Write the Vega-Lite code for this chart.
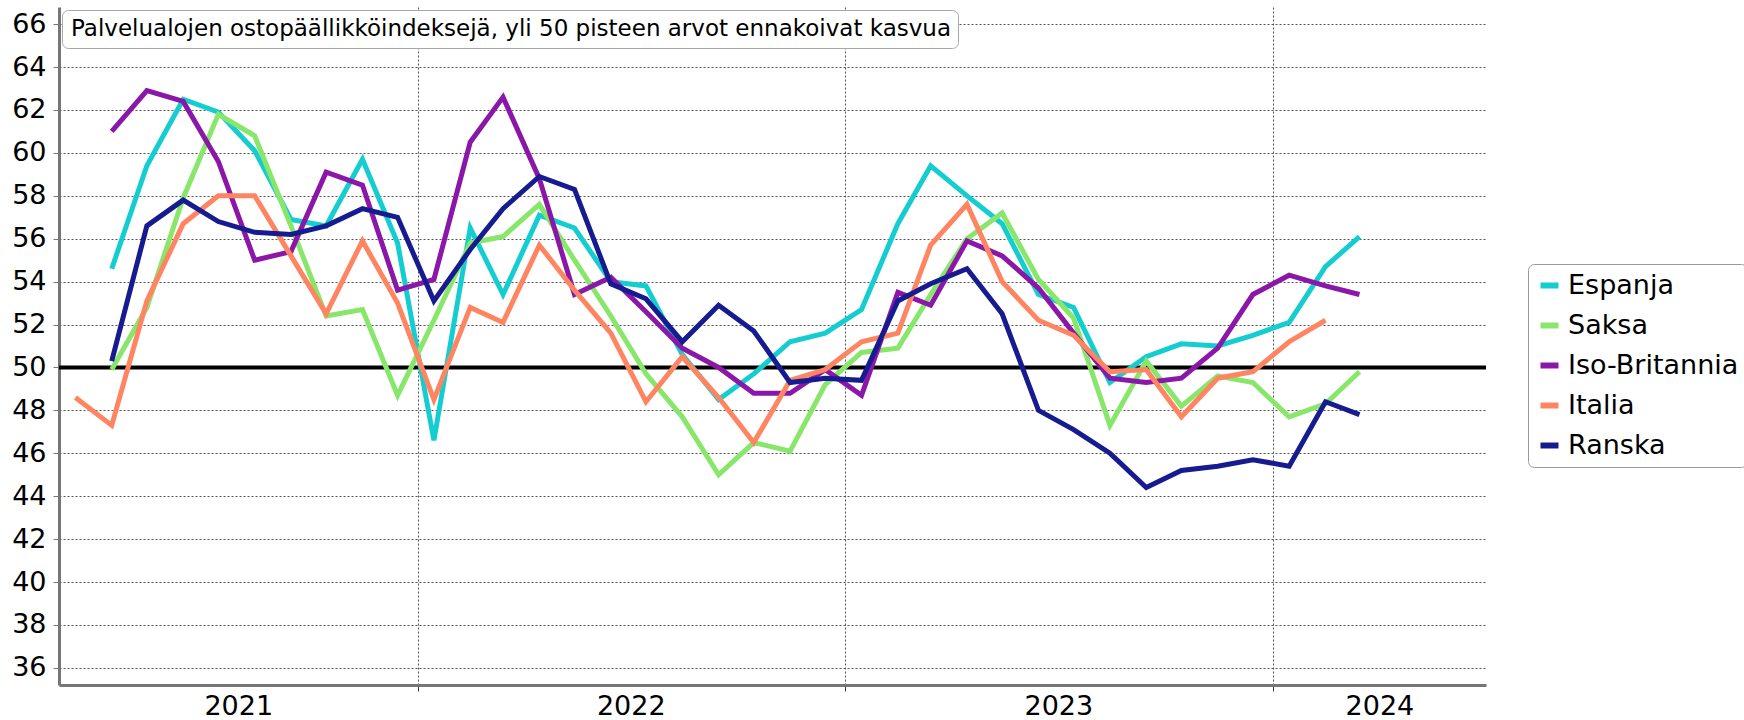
{
  "$schema": "https://vega.github.io/schema/vega-lite/v6.json",
  "width": 1427,
  "height": 678,
  "autosize": {"type": "none"},
  "padding": {"left": 59, "top": 7, "right": 258, "bottom": 35},
  "config": {
    "font": "DejaVu Sans",
    "view": {"stroke": null},
    "axis": {"labelColor": "black"}
  },
  "datasets": {
    "pmi": [
      {"kk":"2021-04-15","maa":"Espanja","arvo":54.6},{"kk":"2021-05-15","maa":"Espanja","arvo":59.4},{"kk":"2021-06-15","maa":"Espanja","arvo":62.5},{"kk":"2021-07-15","maa":"Espanja","arvo":61.9},{"kk":"2021-08-15","maa":"Espanja","arvo":60.1},{"kk":"2021-09-15","maa":"Espanja","arvo":56.9},{"kk":"2021-10-15","maa":"Espanja","arvo":56.6},{"kk":"2021-11-15","maa":"Espanja","arvo":59.7},{"kk":"2021-12-15","maa":"Espanja","arvo":55.8},
      {"kk":"2022-01-15","maa":"Espanja","arvo":46.6},{"kk":"2022-02-15","maa":"Espanja","arvo":56.5},{"kk":"2022-03-15","maa":"Espanja","arvo":53.4},{"kk":"2022-04-15","maa":"Espanja","arvo":57.1},{"kk":"2022-05-15","maa":"Espanja","arvo":56.5},{"kk":"2022-06-15","maa":"Espanja","arvo":54.0},{"kk":"2022-07-15","maa":"Espanja","arvo":53.8},{"kk":"2022-08-15","maa":"Espanja","arvo":50.6},{"kk":"2022-09-15","maa":"Espanja","arvo":48.5},{"kk":"2022-10-15","maa":"Espanja","arvo":49.7},{"kk":"2022-11-15","maa":"Espanja","arvo":51.2},{"kk":"2022-12-15","maa":"Espanja","arvo":51.6},
      {"kk":"2023-01-15","maa":"Espanja","arvo":52.7},{"kk":"2023-02-15","maa":"Espanja","arvo":56.7},{"kk":"2023-03-15","maa":"Espanja","arvo":59.4},{"kk":"2023-04-15","maa":"Espanja","arvo":58.0},{"kk":"2023-05-15","maa":"Espanja","arvo":56.7},{"kk":"2023-06-15","maa":"Espanja","arvo":53.4},{"kk":"2023-07-15","maa":"Espanja","arvo":52.8},{"kk":"2023-08-15","maa":"Espanja","arvo":49.3},{"kk":"2023-09-15","maa":"Espanja","arvo":50.5},{"kk":"2023-10-15","maa":"Espanja","arvo":51.1},{"kk":"2023-11-15","maa":"Espanja","arvo":51.0},{"kk":"2023-12-15","maa":"Espanja","arvo":51.5},
      {"kk":"2024-01-15","maa":"Espanja","arvo":52.1},{"kk":"2024-02-15","maa":"Espanja","arvo":54.7},{"kk":"2024-03-15","maa":"Espanja","arvo":56.1},

      {"kk":"2021-04-15","maa":"Saksa","arvo":49.9},{"kk":"2021-05-15","maa":"Saksa","arvo":52.8},{"kk":"2021-06-15","maa":"Saksa","arvo":57.9},{"kk":"2021-07-15","maa":"Saksa","arvo":61.8},{"kk":"2021-08-15","maa":"Saksa","arvo":60.8},{"kk":"2021-09-15","maa":"Saksa","arvo":56.6},{"kk":"2021-10-15","maa":"Saksa","arvo":52.4},{"kk":"2021-11-15","maa":"Saksa","arvo":52.7},{"kk":"2021-12-15","maa":"Saksa","arvo":48.7},
      {"kk":"2022-01-15","maa":"Saksa","arvo":52.2},{"kk":"2022-02-15","maa":"Saksa","arvo":55.8},{"kk":"2022-03-15","maa":"Saksa","arvo":56.1},{"kk":"2022-04-15","maa":"Saksa","arvo":57.6},{"kk":"2022-05-15","maa":"Saksa","arvo":55.0},{"kk":"2022-06-15","maa":"Saksa","arvo":52.4},{"kk":"2022-07-15","maa":"Saksa","arvo":49.7},{"kk":"2022-08-15","maa":"Saksa","arvo":47.7},{"kk":"2022-09-15","maa":"Saksa","arvo":45.0},{"kk":"2022-10-15","maa":"Saksa","arvo":46.5},{"kk":"2022-11-15","maa":"Saksa","arvo":46.1},{"kk":"2022-12-15","maa":"Saksa","arvo":49.2},
      {"kk":"2023-01-15","maa":"Saksa","arvo":50.7},{"kk":"2023-02-15","maa":"Saksa","arvo":50.9},{"kk":"2023-03-15","maa":"Saksa","arvo":53.4},{"kk":"2023-04-15","maa":"Saksa","arvo":56.0},{"kk":"2023-05-15","maa":"Saksa","arvo":57.2},{"kk":"2023-06-15","maa":"Saksa","arvo":54.1},{"kk":"2023-07-15","maa":"Saksa","arvo":52.3},{"kk":"2023-08-15","maa":"Saksa","arvo":47.3},{"kk":"2023-09-15","maa":"Saksa","arvo":50.3},{"kk":"2023-10-15","maa":"Saksa","arvo":48.2},{"kk":"2023-11-15","maa":"Saksa","arvo":49.6},{"kk":"2023-12-15","maa":"Saksa","arvo":49.3},
      {"kk":"2024-01-15","maa":"Saksa","arvo":47.7},{"kk":"2024-02-15","maa":"Saksa","arvo":48.3},{"kk":"2024-03-15","maa":"Saksa","arvo":49.8},

      {"kk":"2021-04-15","maa":"Iso-Britannia","arvo":61.0},{"kk":"2021-05-15","maa":"Iso-Britannia","arvo":62.9},{"kk":"2021-06-15","maa":"Iso-Britannia","arvo":62.4},{"kk":"2021-07-15","maa":"Iso-Britannia","arvo":59.6},{"kk":"2021-08-15","maa":"Iso-Britannia","arvo":55.0},{"kk":"2021-09-15","maa":"Iso-Britannia","arvo":55.4},{"kk":"2021-10-15","maa":"Iso-Britannia","arvo":59.1},{"kk":"2021-11-15","maa":"Iso-Britannia","arvo":58.5},{"kk":"2021-12-15","maa":"Iso-Britannia","arvo":53.6},
      {"kk":"2022-01-15","maa":"Iso-Britannia","arvo":54.1},{"kk":"2022-02-15","maa":"Iso-Britannia","arvo":60.5},{"kk":"2022-03-15","maa":"Iso-Britannia","arvo":62.6},{"kk":"2022-04-15","maa":"Iso-Britannia","arvo":58.8},{"kk":"2022-05-15","maa":"Iso-Britannia","arvo":53.4},{"kk":"2022-06-15","maa":"Iso-Britannia","arvo":54.2},{"kk":"2022-07-15","maa":"Iso-Britannia","arvo":52.6},{"kk":"2022-08-15","maa":"Iso-Britannia","arvo":50.9},{"kk":"2022-09-15","maa":"Iso-Britannia","arvo":50.0},{"kk":"2022-10-15","maa":"Iso-Britannia","arvo":48.8},{"kk":"2022-11-15","maa":"Iso-Britannia","arvo":48.8},{"kk":"2022-12-15","maa":"Iso-Britannia","arvo":49.9},
      {"kk":"2023-01-15","maa":"Iso-Britannia","arvo":48.7},{"kk":"2023-02-15","maa":"Iso-Britannia","arvo":53.5},{"kk":"2023-03-15","maa":"Iso-Britannia","arvo":52.9},{"kk":"2023-04-15","maa":"Iso-Britannia","arvo":55.9},{"kk":"2023-05-15","maa":"Iso-Britannia","arvo":55.2},{"kk":"2023-06-15","maa":"Iso-Britannia","arvo":53.7},{"kk":"2023-07-15","maa":"Iso-Britannia","arvo":51.6},{"kk":"2023-08-15","maa":"Iso-Britannia","arvo":49.5},{"kk":"2023-09-15","maa":"Iso-Britannia","arvo":49.3},{"kk":"2023-10-15","maa":"Iso-Britannia","arvo":49.5},{"kk":"2023-11-15","maa":"Iso-Britannia","arvo":50.9},{"kk":"2023-12-15","maa":"Iso-Britannia","arvo":53.4},
      {"kk":"2024-01-15","maa":"Iso-Britannia","arvo":54.3},{"kk":"2024-02-15","maa":"Iso-Britannia","arvo":53.8},{"kk":"2024-03-15","maa":"Iso-Britannia","arvo":53.4},

      {"kk":"2021-03-15","maa":"Italia","arvo":48.6},{"kk":"2021-04-15","maa":"Italia","arvo":47.3},{"kk":"2021-05-15","maa":"Italia","arvo":53.1},{"kk":"2021-06-15","maa":"Italia","arvo":56.7},{"kk":"2021-07-15","maa":"Italia","arvo":58.0},{"kk":"2021-08-15","maa":"Italia","arvo":58.0},{"kk":"2021-09-15","maa":"Italia","arvo":55.2},{"kk":"2021-10-15","maa":"Italia","arvo":52.5},{"kk":"2021-11-15","maa":"Italia","arvo":55.9},{"kk":"2021-12-15","maa":"Italia","arvo":53.0},
      {"kk":"2022-01-15","maa":"Italia","arvo":48.5},{"kk":"2022-02-15","maa":"Italia","arvo":52.8},{"kk":"2022-03-15","maa":"Italia","arvo":52.1},{"kk":"2022-04-15","maa":"Italia","arvo":55.7},{"kk":"2022-05-15","maa":"Italia","arvo":53.6},{"kk":"2022-06-15","maa":"Italia","arvo":51.6},{"kk":"2022-07-15","maa":"Italia","arvo":48.4},{"kk":"2022-08-15","maa":"Italia","arvo":50.5},{"kk":"2022-09-15","maa":"Italia","arvo":48.6},{"kk":"2022-10-15","maa":"Italia","arvo":46.5},{"kk":"2022-11-15","maa":"Italia","arvo":49.4},{"kk":"2022-12-15","maa":"Italia","arvo":49.9},
      {"kk":"2023-01-15","maa":"Italia","arvo":51.2},{"kk":"2023-02-15","maa":"Italia","arvo":51.6},{"kk":"2023-03-15","maa":"Italia","arvo":55.7},{"kk":"2023-04-15","maa":"Italia","arvo":57.6},{"kk":"2023-05-15","maa":"Italia","arvo":54.0},{"kk":"2023-06-15","maa":"Italia","arvo":52.2},{"kk":"2023-07-15","maa":"Italia","arvo":51.5},{"kk":"2023-08-15","maa":"Italia","arvo":49.8},{"kk":"2023-09-15","maa":"Italia","arvo":49.9},{"kk":"2023-10-15","maa":"Italia","arvo":47.7},{"kk":"2023-11-15","maa":"Italia","arvo":49.5},{"kk":"2023-12-15","maa":"Italia","arvo":49.8},
      {"kk":"2024-01-15","maa":"Italia","arvo":51.2},{"kk":"2024-02-15","maa":"Italia","arvo":52.2},

      {"kk":"2021-04-15","maa":"Ranska","arvo":50.3},{"kk":"2021-05-15","maa":"Ranska","arvo":56.6},{"kk":"2021-06-15","maa":"Ranska","arvo":57.8},{"kk":"2021-07-15","maa":"Ranska","arvo":56.8},{"kk":"2021-08-15","maa":"Ranska","arvo":56.3},{"kk":"2021-09-15","maa":"Ranska","arvo":56.2},{"kk":"2021-10-15","maa":"Ranska","arvo":56.6},{"kk":"2021-11-15","maa":"Ranska","arvo":57.4},{"kk":"2021-12-15","maa":"Ranska","arvo":57.0},
      {"kk":"2022-01-15","maa":"Ranska","arvo":53.1},{"kk":"2022-02-15","maa":"Ranska","arvo":55.5},{"kk":"2022-03-15","maa":"Ranska","arvo":57.4},{"kk":"2022-04-15","maa":"Ranska","arvo":58.9},{"kk":"2022-05-15","maa":"Ranska","arvo":58.3},{"kk":"2022-06-15","maa":"Ranska","arvo":53.9},{"kk":"2022-07-15","maa":"Ranska","arvo":53.2},{"kk":"2022-08-15","maa":"Ranska","arvo":51.2},{"kk":"2022-09-15","maa":"Ranska","arvo":52.9},{"kk":"2022-10-15","maa":"Ranska","arvo":51.7},{"kk":"2022-11-15","maa":"Ranska","arvo":49.3},{"kk":"2022-12-15","maa":"Ranska","arvo":49.5},
      {"kk":"2023-01-15","maa":"Ranska","arvo":49.4},{"kk":"2023-02-15","maa":"Ranska","arvo":53.1},{"kk":"2023-03-15","maa":"Ranska","arvo":53.9},{"kk":"2023-04-15","maa":"Ranska","arvo":54.6},{"kk":"2023-05-15","maa":"Ranska","arvo":52.5},{"kk":"2023-06-15","maa":"Ranska","arvo":48.0},{"kk":"2023-07-15","maa":"Ranska","arvo":47.1},{"kk":"2023-08-15","maa":"Ranska","arvo":46.0},{"kk":"2023-09-15","maa":"Ranska","arvo":44.4},{"kk":"2023-10-15","maa":"Ranska","arvo":45.2},{"kk":"2023-11-15","maa":"Ranska","arvo":45.4},{"kk":"2023-12-15","maa":"Ranska","arvo":45.7},
      {"kk":"2024-01-15","maa":"Ranska","arvo":45.4},{"kk":"2024-02-15","maa":"Ranska","arvo":48.4},{"kk":"2024-03-15","maa":"Ranska","arvo":47.8}
    ],
    "raja": [
      {"taso": 50, "otsikko": "Palvelualojen ostopäällikköindeksejä, yli 50 pisteen arvot ennakoivat kasvua"}
    ]
  },
  "layer": [
    {
      "data": {"name": "raja"},
      "mark": {"type": "rule", "color": "black", "strokeWidth": 4},
      "encoding": {
        "y": {"field": "taso", "type": "quantitative"},
        "strokeDash": {
          "field": "otsikko",
          "type": "nominal",
          "scale": {"range": [[1, 0]]},
          "legend": {
            "orient": "top-left",
            "title": null,
            "offset": 3,
            "padding": 7,
            "labelFontSize": 23,
            "labelLimit": 3000,
            "labelOffset": -21,
            "labelColor": "black",
            "symbolOpacity": 0,
            "symbolSize": 1,
            "symbolStrokeWidth": 0.01,
            "strokeColor": "#a8a8a8",
            "cornerRadius": 6,
            "fillColor": "white"
          }
        }
      }
    },
    {
      "data": {"name": "pmi"},
      "mark": {"type": "line", "strokeWidth": 5, "strokeJoin": "miter"},
      "encoding": {
        "x": {
          "field": "kk",
          "type": "temporal",
          "scale": {
            "type": "utc",
            "domain": [
              {"year": 2021, "month": 3, "date": 1, "utc": true},
              {"year": 2024, "month": 7, "date": 1, "utc": true}
            ],
            "nice": false
          },
          "axis": {
            "title": null,
            "orient": "bottom",
            "values": [
              {"year": 2021, "month": 8, "date": 1, "utc": true},
              {"year": 2022, "month": 1, "date": 1, "utc": true},
              {"year": 2022, "month": 7, "date": 2, "utc": true},
              {"year": 2023, "month": 1, "date": 1, "utc": true},
              {"year": 2023, "month": 7, "date": 2, "utc": true},
              {"year": 2024, "month": 1, "date": 1, "utc": true},
              {"year": 2024, "month": 4, "date": 1, "utc": true}
            ],
            "labelExpr": "utcmonth(datum.value) === 0 ? '' : utcFormat(datum.value, '%Y')",
            "labelFontSize": 27,
            "labelPadding": 2,
            "labelFlush": false,
            "labelOverlap": false,
            "domainColor": "#767676",
            "domainWidth": 3,
            "tickSize": 6,
            "tickWidth": 1,
            "tickColor": "#333333",
            "tickOpacity": {"condition": {"test": "utcmonth(datum.value) === 0", "value": 1}, "value": 0},
            "grid": true,
            "gridColor": "#555555",
            "gridDash": [2, 2],
            "gridWidth": 1,
            "gridOpacity": {"condition": {"test": "utcmonth(datum.value) === 0", "value": 1}, "value": 0}
          }
        },
        "y": {
          "field": "arvo",
          "type": "quantitative",
          "scale": {"domain": [35.2, 66.8], "nice": false, "zero": false},
          "axis": {
            "title": null,
            "values": [36, 38, 40, 42, 44, 46, 48, 50, 52, 54, 56, 58, 60, 62, 64, 66],
            "labelFontSize": 27,
            "labelPadding": 7,
            "domainColor": "#767676",
            "domainWidth": 3,
            "tickColor": "#767676",
            "tickSize": 6,
            "tickWidth": 1,
            "grid": true,
            "gridColor": "#555555",
            "gridDash": [2, 2],
            "gridWidth": 1
          }
        },
        "color": {
          "field": "maa",
          "type": "nominal",
          "scale": {
            "domain": ["Espanja", "Saksa", "Iso-Britannia", "Italia", "Ranska"],
            "range": ["#14CDD0", "#88E66A", "#8B17A9", "#FF8562", "#161C8F"]
          },
          "legend": {
            "orient": "none",
            "legendX": 1469,
            "legendY": 257,
            "title": null,
            "symbolType": "stroke",
            "symbolStrokeWidth": 6,
            "symbolSize": 324,
            "labelFontSize": 27,
            "labelColor": "black",
            "labelOffset": 5,
            "labelLimit": 400,
            "rowPadding": 12,
            "padding": 8,
            "strokeColor": "#9a9a9a",
            "cornerRadius": 6,
            "fillColor": "white"
          }
        }
      }
    }
  ]
}
